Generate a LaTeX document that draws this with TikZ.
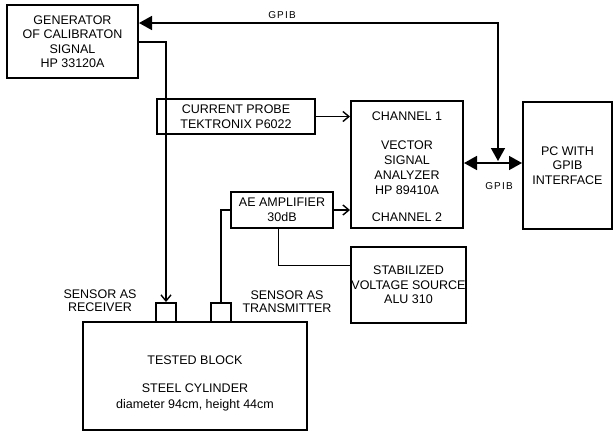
\documentclass[tikz,border=0pt]{standalone}
\usepackage{fontspec}
\setmainfont{Liberation Sans}
\usetikzlibrary{arrows.meta,calc}
\tikzset{
  box/.style={draw, line width=2pt, inner sep=0pt, align=center, font=\fontsize{12.5}{14.5}\selectfont},
  sensor/.style={draw, line width=2pt, inner sep=0pt, minimum width=20pt, minimum height=19pt},
  lbl/.style={inner sep=0pt, align=center, font=\fontsize{12.5}{13.5}\selectfont},
  gpiblbl/.style={inner sep=0pt, font=\fontsize{10}{11}\selectfont\addfontfeature{LetterSpace=12}},
  wire/.style={line width=1.6pt},
  sig/.style={wire, -{Straight Barb[length=6pt,width=10pt,line width=1.4pt]}},
  bus/.style={wire, {Triangle[length=13pt,width=14pt]}-{Triangle[length=13pt,width=14pt]}},
  thinwire/.style={line width=0.8pt}
}
\begin{document}
\begin{tikzpicture}[x=1pt,y=-1pt]
\useasboundingbox (0,0) rectangle (613,432);
% boxes
\node[box, minimum width=131pt, minimum height=73pt] (gen) at (72.5,41.5) {GENERATOR\\OF CALIBRATON\\SIGNAL\\HP 33120A};
\node[box, minimum width=158pt, minimum height=35pt] (probe) at (236,116.5) {CURRENT PROBE\\TEKTRONIX P6022};
\node[box, minimum width=112pt, minimum height=127pt] (vsa) at (407,164.5) {};
\node[lbl] (ch1) at (407,116) {CHANNEL 1};
\node[lbl, font=\fontsize{12.5}{15}\selectfont] (vsatext) at (407,167.5) {VECTOR\\SIGNAL\\ANALYZER\\HP 89410A};
\node[lbl] (ch2) at (407,217) {CHANNEL 2};
\node[box, minimum width=89pt, minimum height=127pt] (pc) at (567.5,165.5) {PC WITH\\GPIB\\INTERFACE};
\node[box, minimum width=102pt, minimum height=36pt] (amp) at (282,210) {AE AMPLIFIER\\30dB};
\node[box, minimum width=111pt, minimum height=76pt] (stab) at (408.5,285) {STABILIZED\\VOLTAGE SOURCE\\ALU 310};
\node[box, minimum width=224pt, minimum height=108pt] (block) at (195,376) {};
\node[lbl] (blocktitle) at (195,360) {TESTED BLOCK};
\node[lbl, font=\fontsize{12.5}{16}\selectfont] (blocksub) at (195,397) {STEEL CYLINDER\\diameter 94cm, height 44cm};
\node[sensor] (rx) at (166,312.5) {};
\node[sensor] (tx) at (221,312.5) {};
% labels
\node[lbl] (rxlbl) at (100,300.5) {SENSOR AS\\RECEIVER};
\node[lbl] (txlbl) at (287,301.5) {SENSOR AS\\TRANSMITTER};
\node[gpiblbl] (gpib1) at (282,15) {GPIB};
\node[gpiblbl] (gpib2) at (499,186) {GPIB};
% coordinates
\coordinate (hub) at (498,163);
\coordinate (hubtop) at (498,161);
\coordinate (busrow) at (300,23);
\coordinate (genrow) at (150,42);
\coordinate (stabin) at ($(stab.north west)!0.25!(stab.south west)$);
% connectors
\draw[bus] (gen.east |- busrow) -| (hubtop);
\draw[bus] (vsa.east |- hub) -- (pc.west |- hub);
\draw[sig] (gen.east |- genrow) -| (rx.north);
\draw[sig] (probe.east) -- (vsa.west |- probe.east);
\draw[sig] (amp.east) -- (vsa.west |- amp.east);
\draw[wire] (amp.west) -| (tx.north);
\draw[thinwire] ($(amp.south)+(-4,0)$) |- (stabin);
\end{tikzpicture}
\end{document}
